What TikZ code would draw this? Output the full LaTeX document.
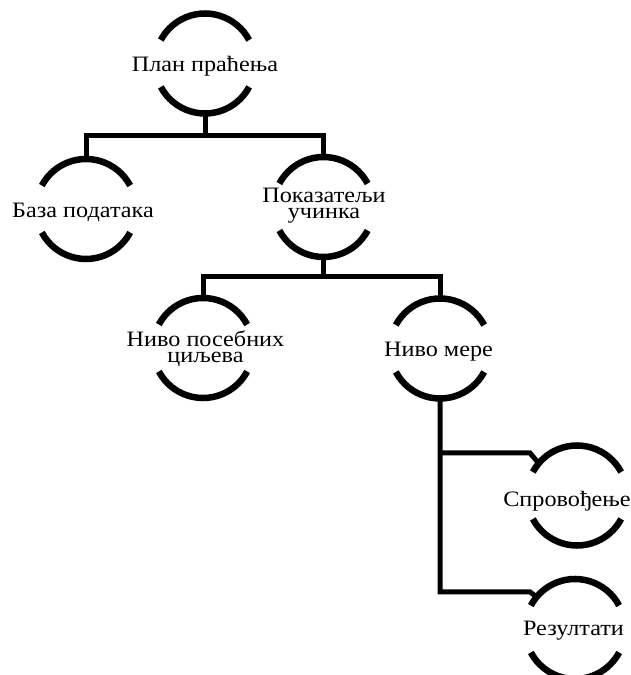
\documentclass[tikz,border=0pt]{standalone}
\usepackage{fontspec}
\setmainfont{Liberation Serif}[FakeStretch=1.1]
\begin{document}
\begin{tikzpicture}[x=1pt,y=1pt,
  hub/.style={circle,minimum size=100pt,inner sep=0pt,outer sep=0pt,draw=none},
  arcline/.style={line width=6.5pt},
  conn/.style={line width=5pt,line join=miter},
  lbl/.style={font=\fontsize{22}{16.5}\selectfont,inner sep=0pt,align=center,anchor=base}]
\useasboundingbox (0,0) rectangle (630,675);
% hubs (circle outlines)
\node[hub] (n1) at (205,611.5) {};
\node[hub] (n2) at (86,466) {};
\node[hub] (n3) at (323.5,468) {};
\node[hub] (n4) at (203,327) {};
\node[hub] (n5) at (440,326.5) {};
\node[hub] (n6) at (577,179.5) {};
\node[hub] (n7) at (575,46) {};
\foreach \n in {n1,n2,n3,n4,n5,n6,n7}{
  \draw[arcline] (\n.28) arc[start angle=28,end angle=152,radius=50pt];
  \draw[arcline] (\n.208) arc[start angle=208,end angle=332,radius=50pt];
}
% labels (base anchor = baseline of the last line)
\node[lbl] (t1) at (205,603) {План праћења};
\node[lbl] (t2) at (83,457) {База података};
\node[lbl] (t3) at (324,456) {Показатељи\\учинка};
\node[lbl] (t4) at (205.5,312.3) {Ниво посебних\\циљева};
\node[lbl] (t5) at (438.5,318) {Ниво мере};
\node[lbl] (t6) at (567,168.3) {Спровођење};
\node[lbl] (t7) at (573.5,39) {Резултати};
% connectors
\coordinate (b1) at (205,539);
\coordinate (b2) at (323.5,398);
\coordinate (j6) at (440,222);
\coordinate (j7) at (440,83);
\coordinate (e6) at (530,222);
\coordinate (e7) at (530,83);
\draw[conn] (n1.south) -- (b1);
\draw[conn] (n2.north) |- (b1) -| (n3.north);
\draw[conn] (n3.south) -- (b2);
\draw[conn] (n4.north) |- (b2) -| (n5.north);
\draw[conn] (n5.south) -- (j7) -- (e7) -- (n7.140);
\draw[conn] (j6) -- (e6) -- (n6.140);
\end{tikzpicture}
\end{document}
